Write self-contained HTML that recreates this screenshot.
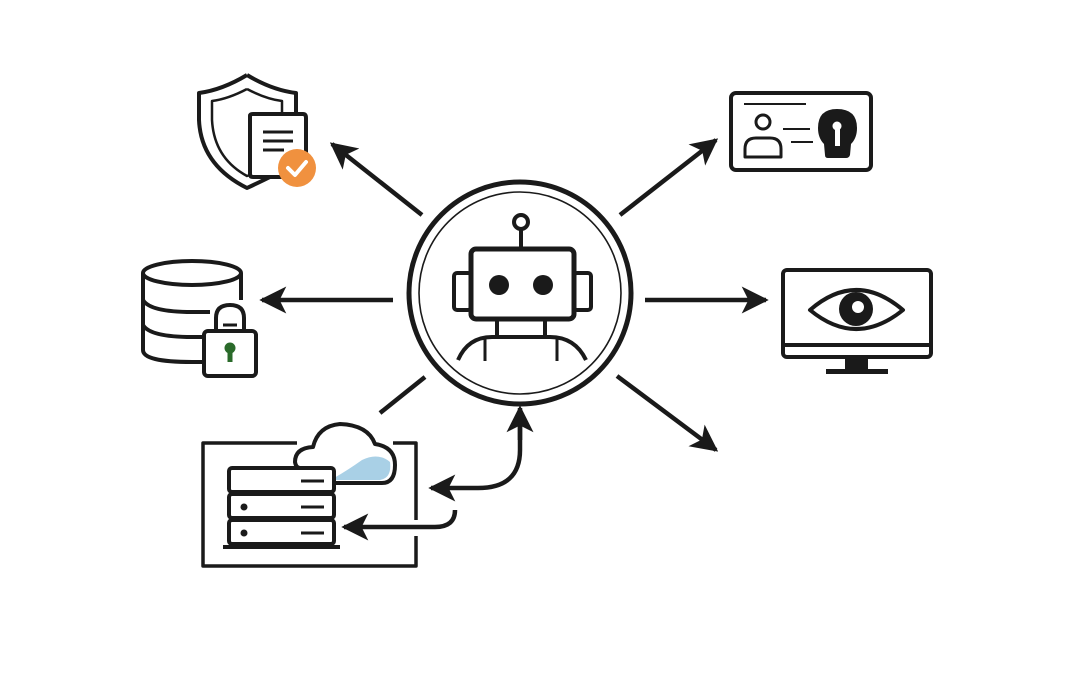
<!DOCTYPE html>
<html><head><meta charset="utf-8"><style>html,body{margin:0;padding:0;background:#fff}svg{display:block}</style></head>
<body>
<svg width="1080" height="675" viewBox="0 0 1080 675" xmlns="http://www.w3.org/2000/svg" fill="none" stroke="#1a1a1a" stroke-linecap="butt" stroke-linejoin="round">
<defs>
<marker id="ah" viewBox="0 0 10 10" refX="9" refY="5" markerWidth="6" markerHeight="6" orient="auto" markerUnits="strokeWidth">
<path d="M0,0 L10,5 L0,10 L2.5,5 Z" fill="#1a1a1a" stroke="none"/>
</marker>
</defs>
<circle cx="520" cy="293" r="111" stroke-width="5"/>
<circle cx="520" cy="293" r="101" stroke-width="1.6"/>
<circle cx="521" cy="222" r="7" stroke-width="4"/>
<line x1="521" y1="229" x2="521" y2="248" stroke-width="4"/>
<rect x="471" y="249" width="103" height="70" rx="5" stroke-width="5"/>
<rect x="454" y="273" width="17" height="37" rx="3" stroke-width="4"/>
<rect x="574" y="273" width="17" height="37" rx="3" stroke-width="4"/>
<circle cx="499" cy="285" r="10" fill="#1a1a1a" stroke="none"/>
<circle cx="543" cy="285" r="10" fill="#1a1a1a" stroke="none"/>
<line x1="497" y1="319" x2="497" y2="337" stroke-width="4"/>
<line x1="545" y1="319" x2="545" y2="337" stroke-width="4"/>
<path d="M458,360 Q468,337 492,337 L550,337 Q575,337 586,360" stroke-width="4"/>
<line x1="485" y1="339" x2="485" y2="361" stroke-width="3"/>
<line x1="557" y1="339" x2="557" y2="361" stroke-width="3"/>
<line x1="422" y1="215" x2="332" y2="144" stroke-width="4.5" marker-end="url(#ah)"/>
<line x1="393" y1="300" x2="262" y2="300" stroke-width="4.5" marker-end="url(#ah)"/>
<line x1="425" y1="377" x2="380" y2="413" stroke-width="4.5"/>
<line x1="620" y1="215" x2="716" y2="140" stroke-width="4.5" marker-end="url(#ah)"/>
<line x1="645" y1="300" x2="766" y2="300" stroke-width="4.5" marker-end="url(#ah)"/>
<line x1="617" y1="376" x2="716" y2="450" stroke-width="4.5" marker-end="url(#ah)"/>
<path d="M520,420 L520,450 Q520,488 478,488 L431,488" stroke-width="4.5" marker-end="url(#ah)"/>
<line x1="520" y1="440" x2="520" y2="408" stroke-width="4.5" marker-end="url(#ah)"/>
<path d="M455,510 Q455,527 435,527 L344,527" stroke-width="4.5" marker-end="url(#ah)"/>
<path d="M247,75 Q222,90 199,93 L199,120 Q201,165 247,188 Q262,181 272,176" stroke-width="4"/>
<path d="M247,75 Q272,90 296,93 L296,114" stroke-width="4"/>
<path d="M247,89 Q228,99 212,101 L212,120 Q214,158 247,176 L250,175" stroke-width="2.5"/>
<path d="M247,89 Q266,99 282,101 L282,114" stroke-width="2.5"/>
<path d="M250,116 Q250,114 253,114 L303,114 Q306,114 306,118 L306,174 Q306,177 303,177 L253,177 Q250,177 250,174 Z" fill="#fff" stroke-width="4"/>
<line x1="263" y1="132" x2="293" y2="132" stroke-width="3"/>
<line x1="263" y1="141" x2="293" y2="141" stroke-width="3"/>
<line x1="263" y1="150" x2="284" y2="150" stroke-width="3"/>
<circle cx="297" cy="168" r="19" fill="#F0913F" stroke="none"/>
<path d="M288,168 L295,175 L306,162" stroke="#fff" stroke-width="4" stroke-linecap="round"/>
<path d="M143,273 L143,350 Q143,362 192,362 L208,362" stroke-width="4"/>
<path d="M241,273 L241,300" stroke-width="4"/>
<ellipse cx="192" cy="273" rx="49" ry="12" stroke-width="4"/>
<path d="M143,300 Q150,312 192,312 L210,312" stroke-width="4"/>
<path d="M143,325 Q150,337 192,337 L210,337" stroke-width="4"/>
<path d="M216,331 L216,318 Q216,305 230,305 Q244,305 244,318 L244,331" stroke-width="4"/>
<line x1="223" y1="325" x2="237" y2="325" stroke-width="3"/>
<rect x="204" y="331" width="52" height="45" rx="4" fill="#fff" stroke-width="4"/>
<circle cx="230" cy="348" r="5.5" fill="#2a6a2a" stroke="none"/>
<rect x="227.5" y="349" width="5" height="13" fill="#2a6a2a" stroke="none"/>
<path d="M297,443 L203,443 L203,566 L416,566 L416,536" stroke-width="3.5"/>
<path d="M393,443 L416,443 L416,520" stroke-width="3.5"/>
<path d="M334,483 L382,483 Q395,483 395,465 Q395,447 375,444 Q368,425 340,424 Q318,426 313,447 Q295,448 295,462 Q296,468 300,468" fill="#fff" stroke-width="4"/>
<path d="M334,478 Q348,470 362,460 Q378,452 390,462 Q392,478 380,480 L334,480 Z" fill="#a9d0e6" stroke="none"/>
<rect x="229" y="468" width="105" height="24" rx="3" fill="#fff" stroke-width="4"/>
<rect x="229" y="494" width="105" height="24" rx="3" fill="#fff" stroke-width="4"/>
<rect x="229" y="520" width="105" height="24" rx="3" fill="#fff" stroke-width="4"/>
<line x1="223" y1="547" x2="340" y2="547" stroke-width="4"/>
<line x1="301" y1="481" x2="324" y2="481" stroke-width="3"/>
<line x1="301" y1="507" x2="324" y2="507" stroke-width="3"/>
<line x1="301" y1="533" x2="324" y2="533" stroke-width="3"/>
<circle cx="244" cy="507" r="3.5" fill="#1a1a1a" stroke="none"/>
<circle cx="244" cy="533" r="3.5" fill="#1a1a1a" stroke="none"/>
<rect x="731" y="93" width="140" height="77" rx="5" stroke-width="4"/>
<line x1="744" y1="104" x2="806" y2="104" stroke-width="2"/>
<circle cx="763" cy="122" r="7" stroke-width="3"/>
<path d="M745,157 L745,149 Q745,138 756,138 L770,138 Q781,138 781,149 L781,157 Z" stroke-width="3"/>
<line x1="783" y1="129" x2="810" y2="129" stroke-width="2"/>
<line x1="791" y1="142" x2="813" y2="142" stroke-width="2"/>
<path d="M837,109 Q857,109 857,128 Q857,138 851,144 L850,155 Q849,158 846,158 L828,158 Q825,158 825,155 L824,144 Q818,138 818,128 Q818,109 837,109 Z" fill="#1a1a1a" stroke="none"/>
<circle cx="837" cy="126" r="5" fill="#fff"/>
<rect x="835" y="128" width="5" height="18" fill="#fff" stroke="none"/>
<rect x="783" y="270" width="148" height="87" rx="4" stroke-width="4"/>
<line x1="783" y1="345" x2="931" y2="345" stroke-width="4"/>
<rect x="845" y="357" width="23" height="14" fill="#1a1a1a" stroke="none"/>
<rect x="826" y="369" width="62" height="5" fill="#1a1a1a" stroke="none"/>
<path d="M810,310 Q856,270 903,310 Q856,348 810,310 Z" stroke-width="4"/>
<circle cx="856" cy="309" r="17" fill="#1a1a1a" stroke="none"/>
<circle cx="858" cy="307" r="6" fill="#fff" stroke="none"/>
</svg>
</body></html>
